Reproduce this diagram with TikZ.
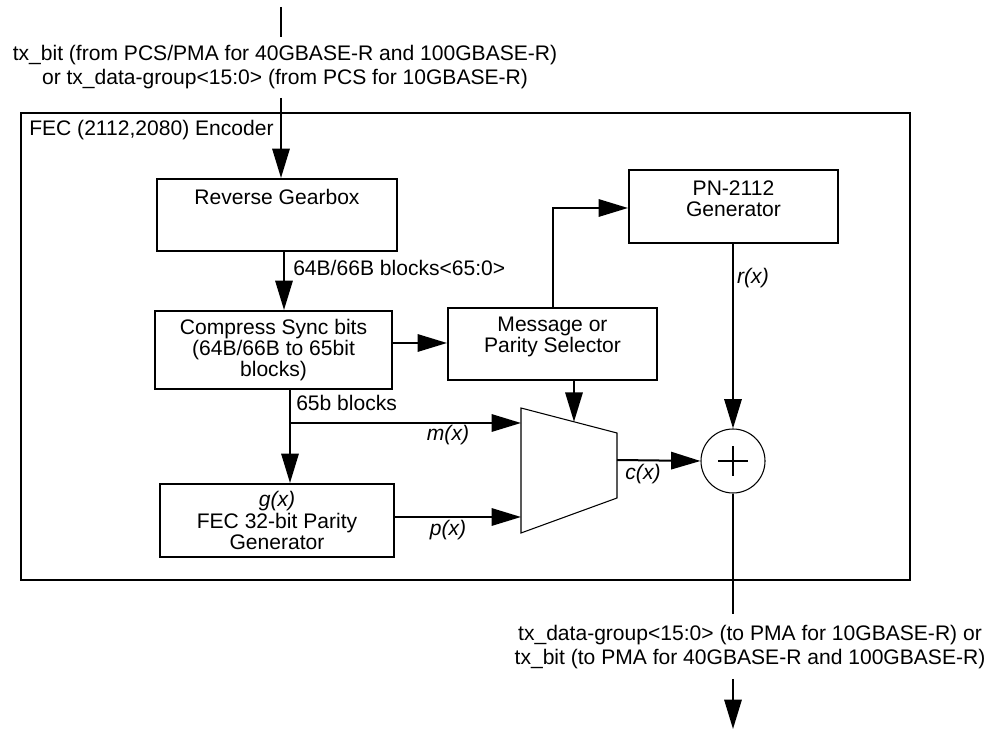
\documentclass[tikz,border=0pt]{standalone}
\usepackage{fontspec}
\setmainfont{Liberation Sans}
\usetikzlibrary{arrows.meta}
\tikzset{
  box/.style={draw, line width=1.5pt, rectangle, inner sep=0pt},
  conn/.style={line width=1.5pt},
  arr/.style={line width=1.5pt, -{Triangle[length=22pt,width=13pt]}},
  txt/.style={inner sep=0pt, align=center, font=\fontsize{15.8pt}{16pt}\selectfont},
  outtxt/.style={inner sep=0pt, align=center, font=\fontsize{15.8pt}{18pt}\selectfont},
  sig/.style={inner sep=0pt, font=\fontsize{15.8pt}{16pt}\selectfont\itshape},
}
\begin{document}
\begin{tikzpicture}[x=0.75pt,y=-0.75pt]
\useasboundingbox (0,0) rectangle (990,730);
% outer box
\node[box, minimum width=666.75pt, minimum height=350.25pt] (outer) at (465.5,346.5) {};
\node[txt, anchor=west] (outerlbl) at (29,130) {FEC (2112,2080) Encoder};
% blocks
\node[box, minimum width=180pt, minimum height=54pt] (rg) at (277,215) {};
\node[txt] (rgt) at (277,197) {Reverse Gearbox};
\node[box, minimum width=177.75pt, minimum height=58.5pt, txt] (cs) at (273.5,350) {Compress Sync bits\\(64B/66B to 65bit\\blocks)};
\node[box, minimum width=156.75pt, minimum height=54pt] (msg) at (552.5,344) {};
\node[txt] (msgt) at (552.5,337) {Message or\\Parity Selector};
\node[box, minimum width=156.75pt, minimum height=54.75pt] (pn) at (733.5,206.5) {};
\node[txt] (pnt) at (733.5,199) {PN-2112\\Generator};
\node[box, minimum width=175.5pt, minimum height=54.75pt, txt] (fec) at (277,520.5) {\textit{g(x)}\\FEC 32-bit Parity\\Generator};
% xor
\node[draw, circle, line width=0.8pt, minimum size=48pt, inner sep=0pt] (xor) at (733,461) {};
\draw[line width=0.8pt] ([xshift=-11pt]xor.center) -- ([xshift=11pt]xor.center);
\draw[line width=0.8pt] ([yshift=-11pt]xor.center) -- ([yshift=11pt]xor.center);
% mux
\coordinate (muxA) at (521,408);
\coordinate (muxB) at (617,433);
\coordinate (muxC) at (617,498);
\coordinate (muxD) at (521,533);
\draw[line width=0.8pt] (muxA) -- (muxB) -- (muxC) -- (muxD) -- cycle;
\coordinate (muxm) at (521,423);
\coordinate (muxp) at (521,517);
\coordinate (muxsel) at (574,421.8);
\coordinate (muxout) at (617,460);
% top input
\coordinate (tin0) at (281,7);
\coordinate (tin1) at (281,37);
\coordinate (tin2) at (281,98);
\draw[conn] (tin0) -- (tin1);
\node[outtxt] (toptxt) at (285,67) {tx\_bit (from PCS/PMA for 40GBASE-R and 100GBASE-R)\\or tx\_data-group<15:0> (from PCS for 10GBASE-R)};
\draw[arr] (tin2) -- (tin2 |- rg.north);
% rg -> cs
\draw[arr] (rg.south -| 284,0) -- (cs.north -| 284,0);
\node[txt, anchor=west] (l64) at (293,268) {64B/66B blocks<65:0>};
% cs -> msg
\draw[arr] (cs.east |- 0,343) -- (msg.west |- 0,343);
% msg -> pn
\draw[arr] (msg.north) |- (pn.west |- 0,208);
% msg -> mux select
\draw[arr] (msg.south -| muxsel) -- (muxsel);
% cs -> fec, branch to mux
\coordinate (br) at (290,423);
\draw[arr] (cs.south -| br) -- (fec.north -| br);
\draw[arr] (br) -- (muxm);
\node[txt, anchor=west] (l65) at (296,403) {65b blocks};
\node[sig] (mx) at (448,435) {m(x)};
% fec -> mux
\draw[arr] (fec.east |- muxp) -- (muxp);
\node[sig] (px) at (448,530) {p(x)};
% mux -> xor
\draw[arr] (muxout) -- (xor.west);
\node[sig] (cx) at (643,474) {c(x)};
% pn -> xor
\draw[arr] (pn.south -| xor.north) -- (xor.north);
\node[sig] (rx) at (753,278) {r(x)};
% output
\coordinate (bo1) at (733,614);
\coordinate (bo2) at (733,679);
\coordinate (bo3) at (733,729);
\draw[conn] (xor.south) -- (bo1);
\node[outtxt] (bottxt) at (750,647) {tx\_data-group<15:0> (to PMA for 10GBASE-R) or\\tx\_bit (to PMA for 40GBASE-R and 100GBASE-R)};
\draw[arr] (bo2) -- (bo3);
\end{tikzpicture}
\end{document}
